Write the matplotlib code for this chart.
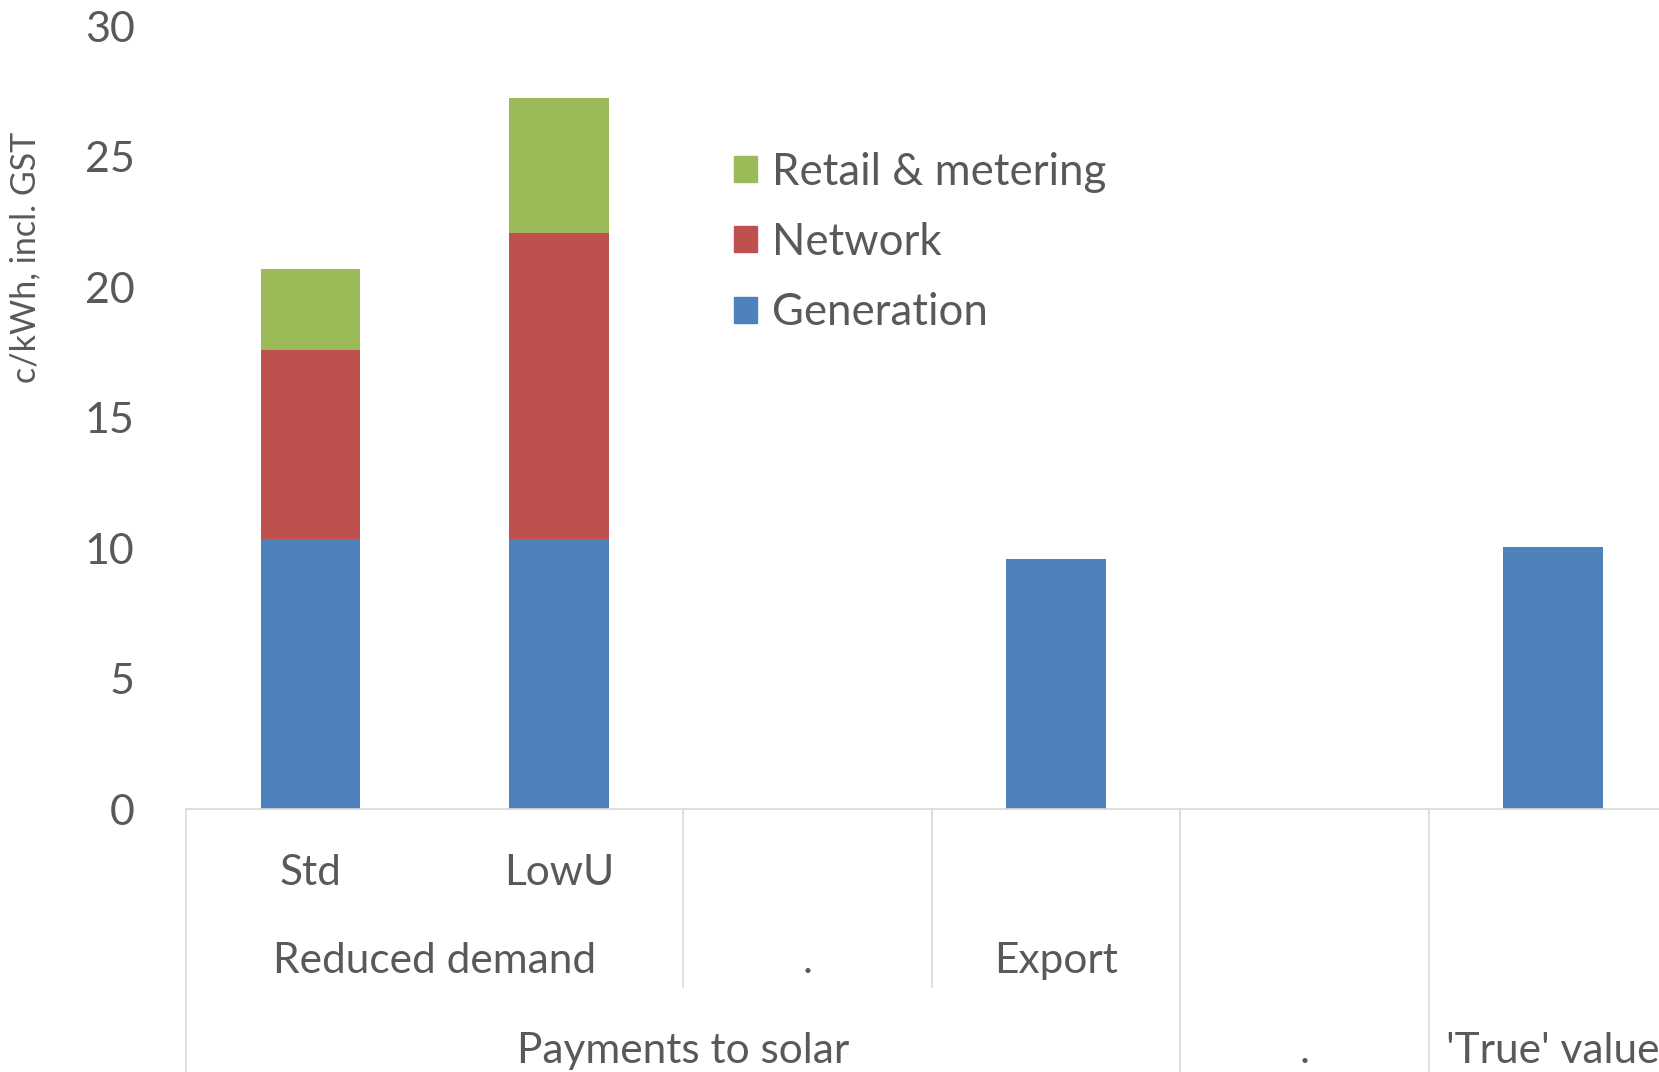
import matplotlib
matplotlib.use("Agg")
import matplotlib.pyplot as plt
from matplotlib.patches import Patch

plt.rcParams['font.family'] = ['Lato', 'DejaVu Sans']

# data
bar_labels   = ['Std', 'LowU', '', '', '', '']
generation   = [10.35, 10.35, 0, 9.6, 0, 10.05]
network      = [7.25, 11.75, 0, 0, 0, 0]
retail       = [3.1, 5.15, 0, 0, 0, 0]
mid_groups   = [('Reduced demand', 0, 2), ('.', 2, 3), ('Export', 3, 4)]
outer_groups = [('Payments to solar', 0, 4), ('.', 4, 5), ("'True' value", 5, 6)]
yticks       = [0, 5, 10, 15, 20, 25, 30]

c_gen, c_net, c_ret = '#4F81BD', '#C0504D', '#9BBB59'
txt = '#595959'
grid_c = '#d9d9d9'

fig = plt.figure(figsize=(16.59, 10.72), dpi=100)
ax = fig.add_axes([0.1121, 0.2449, 0.899, 0.7304])

x = [i + 0.5 for i in range(len(bar_labels))]
bottom2 = [g + n for g, n in zip(generation, network)]
ax.bar(x, generation, width=0.4, color=c_gen)
ax.bar(x, network, width=0.4, bottom=generation, color=c_net)
ax.bar(x, retail, width=0.4, bottom=bottom2, color=c_ret)

ax.set_xlim(0, 6)
ax.set_ylim(0, 30)
ax.set_yticks(yticks)
ax.set_xticks([])
ax.tick_params(axis='y', length=0, pad=37, labelsize=31, labelcolor=txt)
for s in ['top', 'right', 'left']:
    ax.spines[s].set_visible(False)
ax.spines['bottom'].set_color(grid_c)
ax.spines['bottom'].set_linewidth(1.2)

ax.set_ylabel('c/kWh, incl. GST', fontsize=24.5, color=txt)
ax.yaxis.set_label_coords(-0.097, 0.705)

tr = ax.get_xaxis_transform()
y1, y2, y3 = -0.0807, -0.193, -0.308
fs = 30.5
for xi, lab in zip(x, bar_labels):
    ax.text(xi, y1, lab, transform=tr, ha='center', va='center', fontsize=fs, color=txt)
for lab, a, b in mid_groups:
    ax.text((a + b) / 2, y2, lab, transform=tr, ha='center', va='center', fontsize=fs, color=txt)
for lab, a, b in outer_groups:
    ax.text((a + b) / 2, y3, lab, transform=tr, ha='center', va='center', fontsize=fs, color=txt)

# category dividers
for xv, ybot in [(0, -0.4), (2, -0.227), (3, -0.227), (4, -0.4), (5, -0.4)]:
    ax.plot([xv, xv], [0, ybot], transform=tr, color=grid_c, lw=1.2, clip_on=False)

handles = [Patch(color=c_ret, label='Retail & metering'),
           Patch(color=c_net, label='Network'),
           Patch(color=c_gen, label='Generation')]
fig.legend(handles=handles, loc='upper left', bbox_to_anchor=(0.4424, 0.8586), frameon=False,
           fontsize=31.5, labelcolor=txt, handlelength=0.53, handleheight=0.53,
           handletextpad=0.34, labelspacing=0.67, borderpad=0, borderaxespad=0)

fig.savefig('out.png', dpi=100)
